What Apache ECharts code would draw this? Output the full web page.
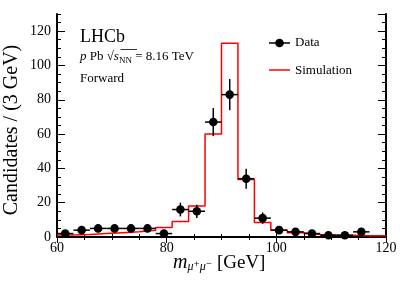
<!DOCTYPE html>
<html><head><meta charset="utf-8">
<script src="https://cdn.jsdelivr.net/npm/echarts@6/dist/echarts.min.js"></script>
<style>html,body{margin:0;padding:0;background:#fff}#c{width:407px;height:282px}</style>
</head><body><div id="c"></div>
<script>
// ---- data ----
const massCenters = [61.5,64.5,67.5,70.5,73.5,76.5,79.5,82.5,85.5,88.5,91.5,94.5,97.5,100.5,103.5,106.5,109.5,112.5,115.5];
const dataCounts  = [2,4,5,5,5,5,2,16,15,67,83,34,11,4,3,2,1,1,3];
const simEdges    = [60,63,66,69,72,75,78,81,84,87,90,93,96,99,102,105,108,111,114,117,120];
const simValues   = [1.2,1.5,2,2.5,3,4,5.5,9,18,60,113,33.5,8.5,4,2.5,1.5,1.2,1,0.8,0.8];
const xTickLabels = [60,80,100,120];
const yTickLabels = [0,20,40,60,80,100,120];
const halfBin = 1.5;

const FONT = '"Liberation Serif","DejaVu Serif",serif';
const simLine = simEdges.map((x,i)=>[x, simValues[Math.min(i, simValues.length-1)]]);
const dataPts = massCenters.map((x,i)=>[x, dataCounts[i], Math.sqrt(dataCounts[i])]);

const chart = echarts.init(document.getElementById('c'), null, {renderer:'canvas'});

const axLine = {show:true, lineStyle:{color:'#000', width:2}};
function xAx(pos, labels){
  return {type:'value', position:pos, min:xTickLabels[0], max:xTickLabels[xTickLabels.length-1], interval:20,
    axisLine:axLine,
    axisTick:{show:true, inside:true, length:6, lineStyle:{color:'#000', width:1}},
    minorTick:{show:true, splitNumber:4, length:3, lineStyle:{color:'#000', width:1}},
    axisLabel:{show:labels, color:'#000', fontFamily:FONT, fontSize:14, margin:4},
    splitLine:{show:false}, minorSplitLine:{show:false}};
}
function yAxMajor(pos, labels){
  return {type:'value', position:pos, min:0, max:130, interval:20,
    axisLine:axLine,
    axisTick:{show:true, inside:true, length:8, lineStyle:{color:'#000', width:1}},
    axisLabel:{show:labels, color:'#000', fontFamily:FONT, fontSize:14, margin:6, showMaxLabel:false,
      formatter:v=> yTickLabels.indexOf(v) >= 0 ? String(v) : ''},
    splitLine:{show:false}};
}
function yAxMinor(pos){
  return {type:'value', position:pos, min:0, max:130, interval:5,
    axisLine:{show:false},
    axisTick:{show:true, inside:true, length:4, lineStyle:{color:'#000', width:1}},
    axisLabel:{show:false}, splitLine:{show:false}};
}

chart.setOption({
  animation:false,
  backgroundColor:'#fff',
  grid:{left:57, right:21, top:14, bottom:45, containLabel:false},
  xAxis:[xAx('bottom', true), xAx('top', false)],
  yAxis:[yAxMajor('left', true), yAxMinor('left'), yAxMajor('right', false), yAxMinor('right')],
  series:[
    {name:'Simulation', type:'line', step:'end', data:simLine, symbol:'none', z:2,
      lineStyle:{color:'#ff0000', width:1.5}, xAxisIndex:0, yAxisIndex:0},
    {name:'Data', type:'custom', data:dataPts, z:5, xAxisIndex:0, yAxisIndex:0,
      encode:{x:0, y:1},
      renderItem:function(params, api){
        const x = api.value(0), y = api.value(1), e = api.value(2);
        const c = api.coord([x, y]);
        const lo = api.coord([x-halfBin, y]), hi = api.coord([x+halfBin, y]);
        const up = api.coord([x, y+e]), dn = api.coord([x, Math.max(0, y-e)]);
        return {type:'group', children:[
          {type:'line', shape:{x1:lo[0], y1:c[1], x2:hi[0], y2:c[1]}, style:{stroke:'#000', lineWidth:1.5}},
          {type:'line', shape:{x1:c[0], y1:up[1], x2:c[0], y2:dn[1]}, style:{stroke:'#000', lineWidth:1.5}},
          {type:'circle', shape:{cx:c[0], cy:c[1], r:4.3}, style:{fill:'#000'}}
        ]};
      }}
  ],
  graphic:[
    {type:'text', x:12, y:130, rotation:Math.PI/2, style:{text:'Candidates / (3 GeV)', font:'20px '+FONT, fill:'#000', textAlign:'center', textVerticalAlign:'middle'}},
    {type:'text', x:173, y:263, style:{text:'{m|m}{s|μ⁺μ⁻}{n| [GeV]}', textAlign:'left', textVerticalAlign:'middle', fill:'#000',
      rich:{m:{fontFamily:FONT, fontSize:20, fontStyle:'italic', lineHeight:20, verticalAlign:'middle'},
            s:{fontFamily:FONT, fontSize:12, fontStyle:'italic', lineHeight:8, verticalAlign:'bottom'},
            n:{fontFamily:FONT, fontSize:19, lineHeight:20, verticalAlign:'middle'}}}},
    {type:'text', x:80, y:37, style:{text:'LHCb', font:'18px '+FONT, fill:'#000', textAlign:'left', textVerticalAlign:'middle'}},
    {type:'text', x:80, y:57, style:{text:'{i|p}{n| Pb }{n|√}{i|s}{sub|NN}{n| = 8.16 TeV}', textAlign:'left', textVerticalAlign:'middle', fill:'#000',
      rich:{i:{fontFamily:FONT, fontSize:13, fontStyle:'italic', lineHeight:16, verticalAlign:'middle'},
            n:{fontFamily:FONT, fontSize:13, lineHeight:16, verticalAlign:'middle'},
            sub:{fontFamily:FONT, fontSize:9, lineHeight:8, verticalAlign:'bottom'}}}},
    {type:'line', shape:{x1:120.5, y1:49.5, x2:137, y2:49.5}, style:{stroke:'#000', lineWidth:0.8}},
    {type:'text', x:80, y:79, style:{text:'Forward', font:'13px '+FONT, fill:'#000', textAlign:'left', textVerticalAlign:'middle'}},
    // legend
    {type:'line', shape:{x1:269, y1:43, x2:290, y2:43}, style:{stroke:'#000', lineWidth:1.5}},
    {type:'circle', shape:{cx:279.5, cy:43, r:4.3}, style:{fill:'#000'}},
    {type:'text', x:295, y:43, style:{text:'Data', font:'13px '+FONT, fill:'#000', textAlign:'left', textVerticalAlign:'middle'}},
    {type:'line', shape:{x1:269, y1:70, x2:290, y2:70}, style:{stroke:'#ff0000', lineWidth:1.5}},
    {type:'text', x:295, y:71, style:{text:'Simulation', font:'13px '+FONT, fill:'#000', textAlign:'left', textVerticalAlign:'middle'}}
  ]
});
</script></body></html>
